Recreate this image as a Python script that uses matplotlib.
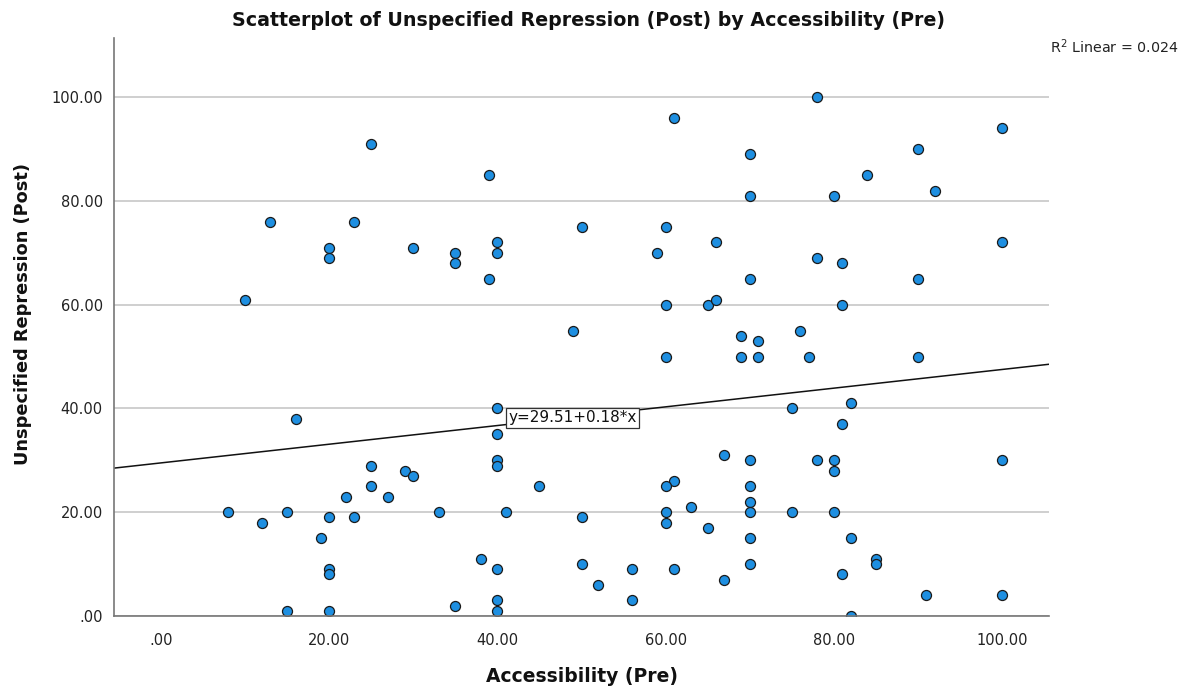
import matplotlib
matplotlib.use("Agg")
import matplotlib.pyplot as plt
import numpy as np

plt.rcParams['font.family'] = ['DejaVu Sans']

# Accessibility (Pre)
access = [
    10, 13, 20, 20, 23, 25, 30, 35, 35, 39, 39, 40, 40,
    49, 50, 59, 60, 60, 60, 61, 65, 66, 66, 69, 69, 70, 70, 70, 71, 71,
    76, 77, 78, 78, 80, 81, 81, 84, 90, 90, 90, 92, 100, 100,
    40, 16, 40, 40, 40, 45, 25, 25, 29, 30, 22, 27, 8, 12, 15, 20, 23,
    19, 33, 41, 20, 20, 38, 40, 15, 20, 35, 40, 40,
    75, 82, 81, 67, 70, 78, 80, 80, 100, 61, 60, 70, 70, 63, 50, 60, 60,
    65, 70, 75, 80, 70, 82, 50, 56, 61, 70, 85, 85, 52, 67, 81, 56, 91,
    100, 82,
]
# Unspecified Repression (Post)
repression = [
    61, 76, 71, 69, 76, 91, 71, 70, 68, 85, 65, 72, 70,
    55, 75, 70, 75, 60, 50, 96, 60, 61, 72, 54, 50, 89, 81, 65, 53, 50,
    55, 50, 100, 69, 81, 68, 60, 85, 90, 65, 50, 82, 94, 72,
    40, 38, 35, 30, 29, 25, 29, 25, 28, 27, 23, 23, 20, 18, 20, 19, 19,
    15, 20, 20, 9, 8, 11, 9, 1, 1, 2, 3, 1,
    40, 41, 37, 31, 30, 30, 30, 28, 30, 26, 25, 25, 22, 21, 19, 20, 18,
    17, 20, 20, 20, 15, 15, 10, 9, 9, 10, 11, 10, 6, 7, 8, 3, 4,
    4, 0,
]

intercept = 29.51
slope = 0.18
r2_text = "R$^2$ Linear = 0.024"
title = "Scatterplot of Unspecified Repression (Post) by Accessibility (Pre)"
xlabel = "Accessibility (Pre)"
ylabel = "Unspecified Repression (Post)"
ticks = [0, 20, 40, 60, 80, 100]
tick_labels = [".00", "20.00", "40.00", "60.00", "80.00", "100.00"]

fig = plt.figure(figsize=(11.96, 6.90), dpi=100)
ax = fig.add_axes([114/1196, 74/690, (1049-114)/1196, (616-38)/690])

xmin, xmax = -5.6, 105.6
ymin, ymax = 0, 111.4
ax.set_xlim(xmin, xmax)
ax.set_ylim(ymin, ymax)

ax.set_yticks(ticks)
ax.set_yticklabels(tick_labels)
ax.set_xticks(ticks)
ax.set_xticklabels(tick_labels)
ax.grid(axis='y', color='#cccccc', linewidth=1.3, zorder=0)
ax.tick_params(length=0, labelsize=10.5, colors='#222222', pad=12)
ax.tick_params(axis='y', pad=8)

for s in ['top', 'right']:
    ax.spines[s].set_visible(False)
for s in ['left', 'bottom']:
    ax.spines[s].set_color('#777777')
    ax.spines[s].set_linewidth(1.2)
    ax.spines[s].set_zorder(4)

ax.scatter(access, repression, s=52, facecolor='#1e8fe1', edgecolor='#1a1a1a',
           linewidths=0.9, zorder=3, clip_on=True)

xs = np.array([xmin, xmax])
ax.plot(xs, intercept + slope * xs, color='#111111', linewidth=1.1, zorder=2)

ax.text(41.3, 38.2, "y=29.51+0.18*x", fontsize=11, va='center', ha='left',
        color='#111111', zorder=5,
        bbox=dict(boxstyle='square,pad=0.15', facecolor='white',
                  edgecolor='#333333', linewidth=0.9))

fig.text(1050/1196, 1 - 47/690, r2_text, fontsize=10.3, ha='left', va='center',
         color='#222222')

fig.text(588/1196, 1 - 20/690, title, fontsize=13.7, fontweight='bold',
         ha='center', va='center', color='#111111')
ax.set_xlabel(xlabel, fontsize=13.5, fontweight='bold', labelpad=14, color='#111111')
ax.set_ylabel(ylabel, fontsize=12.8, fontweight='bold', color='#111111')
ax.yaxis.set_label_coords((32 - 114) / 935, (616 - 314) / 578)

fig.savefig("out.png", dpi=100)
